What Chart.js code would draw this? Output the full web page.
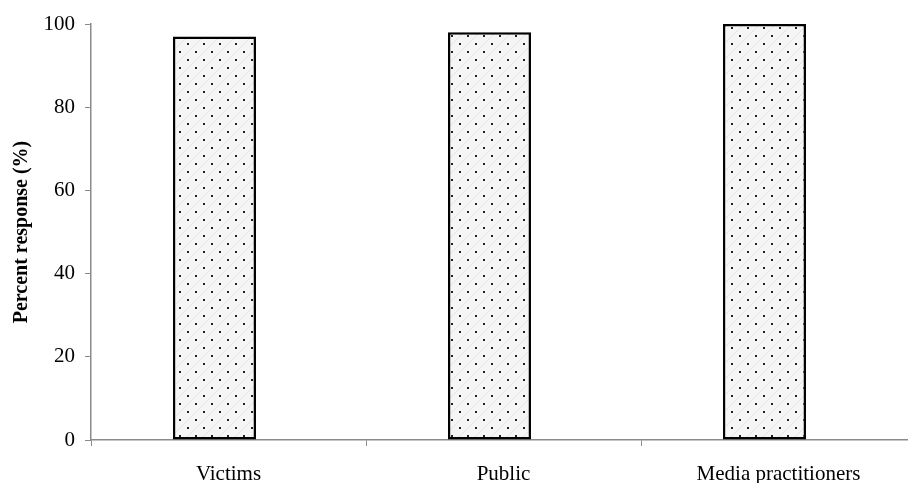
<!DOCTYPE html>
<html lang="en">
<head>
    <meta charset="UTF-8">
    <title>Percent response</title>
    <style>
        html, body { margin: 0; padding: 0; overflow: hidden; background: #fff; }
        #chartCont { width: 918px; height: 483px; }
    </style>
</head>
<body>
    <div id="chartCont"><canvas id="myChart"></canvas></div>
    <script src="https://cdn.jsdelivr.net/npm/chart.js"></script>
    <script>
    const categories = ['Victims', 'Public', 'Media practitioners']
    const responses = [97, 98, 100]
    const yTicks = [0, 20, 40, 60, 80, 100]

    // dotted fill like the original (grey dots on a light background)
    function makeDots() {
        const c = document.createElement('canvas')
        c.width = 16; c.height = 16
        const g = c.getContext('2d')
        g.fillStyle = '#f5f5f5'
        g.fillRect(0, 0, 16, 16)
        g.strokeStyle = '#e4e4e4'
        g.lineWidth = 1
        g.beginPath()
        g.moveTo(0, 16); g.lineTo(16, 0)
        g.moveTo(-8, 8); g.lineTo(8, -8)
        g.moveTo(8, 24); g.lineTo(24, 8)
        g.stroke()
        g.fillStyle = '#222'
        g.fillRect(3, 3, 2, 2)
        g.fillRect(11, 11, 2, 2)
        return g.createPattern(c, 'repeat')
    }
    const dots = makeDots()

    const axisGrey = '#8a8a8a'
    const data = {
        labels: categories,
        datasets: [{
            label: 'Percent response',
            data: responses,
            backgroundColor: dots,
            borderColor: '#000',
            borderWidth: 2.5,
            borderSkipped: false,
            barPercentage: 2.96,
            categoryPercentage: 0.204
        }, {
            // empty partner series, pushes the bars left of the label like the source
            label: '',
            data: responses.map(() => null),
            barPercentage: 2.96,
            categoryPercentage: 0.204
        }]
    }

    const config = {
        type: 'bar',
        data: data,
        options: {
            responsive: true,
            maintainAspectRatio: false,
            animation: false,
            layout: { padding: { top: 24, left: 0, right: 2, bottom: 0 } },
            plugins: {
                legend: { display: false },
                tooltip: { enabled: false }
            },
            scales: {
                x: {
                    offset: true,
                    grid: {
                        offset: true,
                        drawOnChartArea: false,
                        color: axisGrey,
                        tickLength: 6
                    },
                    border: { color: axisGrey, width: 1.5 },
                    ticks: {
                        color: '#000',
                        padding: 16,
                        font: { family: 'Liberation Serif', size: 21 }
                    },
                    afterFit: function(scale) { scale.height = 43 }
                },
                y: {
                    min: 0,
                    max: 100,
                    afterBuildTicks: function(scale) {
                        scale.ticks = yTicks.map(v => ({ value: v }))
                    },
                    grid: {
                        drawOnChartArea: false,
                        color: axisGrey,
                        tickLength: 6
                    },
                    border: { color: axisGrey, width: 1.5 },
                    ticks: {
                        color: '#000',
                        padding: 10,
                        font: { family: 'Liberation Serif', size: 21 }
                    },
                    title: {
                        display: true,
                        text: 'Percent response (%)',
                        color: '#000',
                        padding: { top: 10, bottom: 0 },
                        font: { family: 'Liberation Serif', size: 20, weight: 'bold' }
                    },
                    afterFit: function(scale) { scale.width = 91 }
                }
            }
        }
    }

    const myChart = new Chart(document.getElementById('myChart'), config)
    </script>
</body>
</html>
